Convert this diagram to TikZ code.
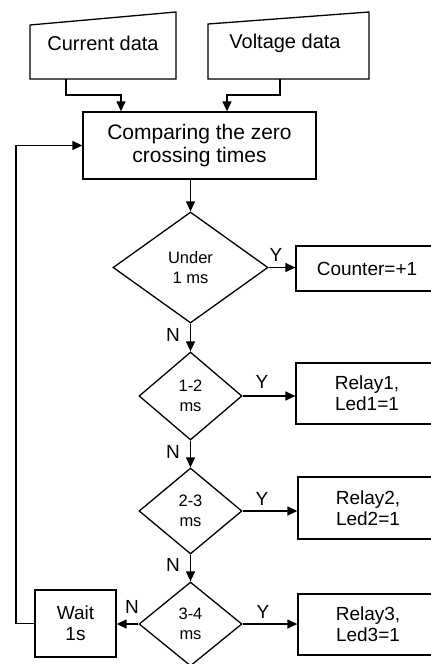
\documentclass[tikz,border=0pt]{standalone}
\usepackage{fontspec}
\setmainfont{Liberation Sans}
\usetikzlibrary{shapes.geometric,arrows.meta}
\begin{document}
\begin{tikzpicture}[x=1pt,y=-1pt,
  line width=1.3pt,
  every node/.style={font=\fontsize{19}{21}\selectfont},
  box/.style={draw, rectangle, inner sep=0pt, align=center},
  decision/.style={draw, diamond, inner sep=0pt, align=center,
    font=\fontsize{16.5}{20}\selectfont},
  flow/.style={-{Triangle[length=10pt,width=9pt]}},
  lbl/.style={inner sep=0pt, font=\fontsize{19}{20}\selectfont}
]
\useasboundingbox (0,0) rectangle (431,664);
\clip (0,0) rectangle (431,664);

% manual input shapes
\draw (30,25) -- (176,12) -- (176,79) -- (30,79) -- cycle;
\node[font=\fontsize{20}{22}\selectfont] (cur) at (103,43) {Current data};
\coordinate (curB) at (66,79);
\draw (208,24) -- (369,12) -- (369,79) -- (208,79) -- cycle;
\node[font=\fontsize{20}{22}\selectfont] (vol) at (285,43) {Voltage data};
\coordinate (volB) at (280,79);

% processing and decisions
\node[box, minimum width=233pt, minimum height=67pt,
  font=\fontsize{21}{23}\selectfont] (cmp) at (199.5,145.5)
  {Comparing the zero\\crossing times};
\node[decision, minimum width=155pt, minimum height=111pt] (d1) at (190.5,267.5) {Under\\1 ms};
\node[decision, minimum width=103pt, minimum height=88pt] (d2) at (190.5,396) {1-2\\ms};
\node[decision, minimum width=103pt, minimum height=86pt] (d3) at (190.5,511) {2-3\\ms};
\node[decision, minimum width=103pt, minimum height=84pt] (d4) at (190.5,624) {3-4\\ms};

% outcome boxes
\node[box, minimum width=142pt, minimum height=45pt] (cnt) at (367,268.5) {Counter=+1};
\node[box, minimum width=142pt, minimum height=61pt] (r1) at (367,393.5) {Relay1,\\Led1=1};
\node[box, minimum width=140pt, minimum height=62pt] (r2) at (368,508) {Relay2,\\Led2=1};
\node[box, minimum width=140pt, minimum height=61pt] (r3) at (368,624.5) {Relay3,\\Led3=1};
\node[box, minimum width=81pt, minimum height=67pt] (wait) at (75.5,623.5) {Wait\\1s};

% inputs into the comparison
\draw[flow] (curB) -- ++(0,16) -| ([xshift=-78.5pt]cmp.north);
\draw[flow] (volB) -- ++(0,16) -| ([xshift=27.5pt]cmp.north);

% main chain
\draw[flow] (cmp.south -| d1.north) -- (d1.north);
\draw[flow] (d1.south) -- (d2.north);
\draw[flow] (d2.south) -- (d3.north);
\draw[flow] (d3.south) -- (d4.north);

% yes branches
\draw[flow] (d1.east) -- (d1.east -| cnt.west);
\draw[flow] (d2.east) -- (d2.east -| r1.west);
\draw[flow] (d3.east) -- (d3.east -| r2.west);
\draw[flow] (d4.east) -- (d4.east -| r3.west);

% no branch to waiting and loop back
\draw[flow] (d4.west) -- (d4.west -| wait.east);
\coordinate (loopc) at (16,623.5);
\draw[flow] (wait.west) -- (loopc) |- (cmp.west);

% branch labels
\node[lbl] (y1) at (276,255) {Y};
\node[lbl] (y2) at (262,382) {Y};
\node[lbl] (y3) at (262,499) {Y};
\node[lbl] (y4) at (263,612) {Y};
\node[lbl] (n1) at (173,335) {N};
\node[lbl] (n2) at (173,452) {N};
\node[lbl] (n3) at (173,565) {N};
\node[lbl] (n4) at (132,607) {N};
\end{tikzpicture}
\end{document}
